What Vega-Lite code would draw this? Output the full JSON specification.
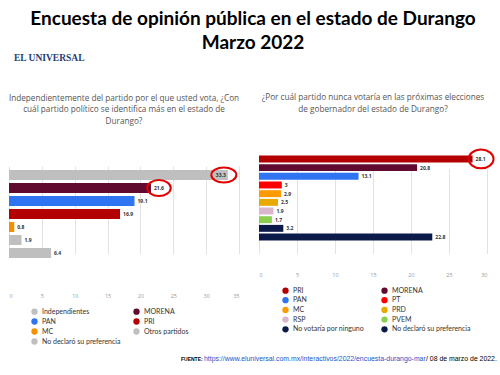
{
  "$schema": "https://vega.github.io/schema/vega-lite/v6.json",
  "background": "white",
  "padding": {"left": 8, "top": 10, "right": 4, "bottom": 4},
  "config": {
    "view": {"stroke": null},
    "font": "Open Sans"
  },
  "spacing": 10,
  "vconcat": [
    {
      "width": 488, "height": 30,
      "title": {
        "text": ["Encuesta de opinión pública en el estado de Durango", "Marzo 2022"],
        "font": "Lato", "fontSize": 19, "fontWeight": "bold", "color": "#000000",
        "anchor": "middle", "lineHeight": 24, "offset": 0
      },
      "data": {"values": [{"logo": "EL UNIVERSAL"}]},
      "mark": {"type": "text", "align": "left", "baseline": "middle", "font": "Liberation Serif", "fontWeight": "bold", "fontSize": 9.5, "color": "#1f3c74", "x": 5, "y": 5},
      "encoding": {"text": {"field": "logo"}}
    },
    {
      "spacing": 18,
      "resolve": {"scale": {"color": "independent", "y": "independent", "x": "independent"}},
      "hconcat": [
        {
          "width": 230, "height": 148,
          "title": {
            "text": ["Independientemente del partido por el que usted vota, ¿Con", "cuál partido político se identifica más en el estado de", "Durango?"],
            "font": "Open Sans", "fontSize": 8.2, "fontWeight": "normal", "color": "#555555",
            "anchor": "middle", "lineHeight": 11.5, "offset": 12
          },
          "data": {"values": [
            {"partido": "Independientes", "pct": 33.3},
            {"partido": "MORENA", "pct": 21.6},
            {"partido": "PAN", "pct": 19.1},
            {"partido": "PRI", "pct": 16.9},
            {"partido": "MC", "pct": 0.8},
            {"partido": "Otros partidos", "pct": 1.9},
            {"partido": "No declaró su preferencia", "pct": 6.4}
          ]},
          "encoding": {
            "y": {"field": "partido", "type": "nominal", "sort": null, "axis": null,
                  "scale": {"range": [32, 120], "paddingInner": 0.23, "paddingOuter": 0}},
            "x": {"field": "pct", "type": "quantitative", "scale": {"domain": [0, 35], "nice": false},
                  "axis": {"title": null, "values": [0, 5, 10, 15, 20, 25, 30, 35], "grid": true, "gridColor": "#e3e3e3", "ticks": false, "domain": false,
                           "labelFontSize": 5.5, "labelColor": "#999999", "labelPadding": 7, "labelFont": "Open Sans"}}
          },
          "layer": [
            {
              "mark": {"type": "bar"},
              "encoding": {
                "color": {"field": "partido", "type": "nominal",
                  "scale": {"domain": ["Independientes", "MORENA", "PAN", "PRI", "MC", "Otros partidos", "No declaró su preferencia"],
                            "range": ["#bfbfbf", "#600a30", "#2f74f0", "#b30000", "#f39200", "#bfbfbf", "#bfbfbf"]},
                  "legend": {"title": null, "orient": "none", "direction": "horizontal", "legendX": 22, "legendY": 170, "columns": 2, "symbolType": "circle", "symbolSize": 40, "symbolStrokeWidth": 0,
                             "labelFont": "Lato", "labelFontSize": 7, "labelColor": "#333333", "rowPadding": 2, "columnPadding": 12, "labelOffset": 4}}
              }
            },
            {
              "transform": [{"filter": "datum.pct < 30"}],
              "mark": {"type": "text", "align": "left", "baseline": "middle", "dx": 3, "fontSize": 5, "fontWeight": "bold", "color": "#333333"},
              "encoding": {"text": {"field": "pct", "type": "quantitative", "format": "~g"}}
            },
            {
              "transform": [{"filter": "datum.pct >= 30"}],
              "mark": {"type": "text", "align": "right", "baseline": "middle", "dx": -2, "fontSize": 5, "fontWeight": "bold", "color": "#333333"},
              "encoding": {"text": {"field": "pct", "type": "quantitative", "format": "~g"}}
            },
            {
              "transform": [{"filter": "datum.partido == 'Independientes'"}],
              "mark": {"type": "point", "filled": false, "stroke": "#e00000", "strokeWidth": 2, "opacity": 1,
                       "shape": "M-1,0A1,0.6 0 1,1 1,0A1,0.6 0 1,1 -1,0Z", "size": 625, "xOffset": -4}
            },
            {
              "transform": [{"filter": "datum.partido == 'MORENA'"}],
              "mark": {"type": "point", "filled": false, "stroke": "#e00000", "strokeWidth": 2, "opacity": 1,
                       "shape": "M-1,0A1,0.68 0 1,1 1,0A1,0.68 0 1,1 -1,0Z", "size": 560, "xOffset": 8}
            }
          ]
        },
        {
          "width": 228, "height": 133,
          "title": {
            "text": ["¿Por cuál partido nunca votaría en las próximas elecciones", "de gobernador del estado de Durango?"],
            "font": "Open Sans", "fontSize": 8.2, "fontWeight": "normal", "color": "#555555",
            "anchor": "middle", "lineHeight": 11.5, "offset": 24
          },
          "data": {"values": [
            {"partido": "PRI", "pct": 28.1},
            {"partido": "MORENA", "pct": 20.8},
            {"partido": "PAN", "pct": 13.1},
            {"partido": "PT", "pct": 3},
            {"partido": "MC", "pct": 2.9},
            {"partido": "PRD", "pct": 2.5},
            {"partido": "RSP", "pct": 1.9},
            {"partido": "PVEM", "pct": 1.7},
            {"partido": "No votaría por ninguno", "pct": 3.2},
            {"partido": "No declaró su preferencia", "pct": 22.8}
          ]},
          "encoding": {
            "y": {"field": "partido", "type": "nominal", "sort": null, "axis": null,
                  "scale": {"range": [17.5, 102.5], "paddingInner": 0.2, "paddingOuter": 0}},
            "x": {"field": "pct", "type": "quantitative", "scale": {"domain": [0, 30], "nice": false},
                  "axis": {"title": null, "values": [0, 5, 10, 15, 20, 25, 30], "grid": true, "gridColor": "#e3e3e3", "ticks": false, "domain": false,
                           "labelFontSize": 5.5, "labelColor": "#999999", "labelPadding": 1, "labelFont": "Open Sans"}}
          },
          "layer": [
            {
              "mark": {"type": "bar"},
              "encoding": {
                "color": {"field": "partido", "type": "nominal",
                  "scale": {"domain": ["PRI", "MORENA", "PAN", "PT", "MC", "PRD", "RSP", "PVEM", "No votaría por ninguno", "No declaró su preferencia"],
                            "range": ["#b30000", "#600a30", "#2f74f0", "#ff0000", "#ff9900", "#e8a900", "#dbb5cc", "#8ccf50", "#0c1a4a", "#0c1a4a"]},
                  "legend": {"title": null, "orient": "none", "direction": "horizontal", "legendX": 23, "legendY": 149, "columns": 2, "symbolType": "circle", "symbolSize": 40, "symbolStrokeWidth": 0,
                             "labelFont": "Lato", "labelFontSize": 7, "labelColor": "#333333", "rowPadding": 1.7, "columnPadding": 16, "labelOffset": 4}}
              }
            },
            {
              "mark": {"type": "text", "align": "left", "baseline": "middle", "dx": 3, "fontSize": 5, "fontWeight": "bold", "color": "#333333"},
              "encoding": {"text": {"field": "pct", "type": "quantitative", "format": "~g"}}
            },
            {
              "transform": [{"filter": "datum.partido == 'PRI'"}],
              "mark": {"type": "point", "filled": false, "stroke": "#e00000", "strokeWidth": 2, "opacity": 1,
                       "shape": "M-1,0A1,0.75 0 1,1 1,0A1,0.75 0 1,1 -1,0Z", "size": 625, "xOffset": 8.5}
            }
          ]
        }
      ]
    },
    {
      "width": 488, "height": 10,
      "data": {"values": [{"fuente": "FUENTE:", "url": "https://www.eluniversal.com.mx/interactivos/2022/encuesta-durango-mar", "fecha": "/ 08 de marzo de 2022."}]},
      "layer": [
        {"mark": {"type": "text", "align": "left", "baseline": "middle", "font": "Liberation Sans", "fontWeight": "bold", "fontSize": 5, "color": "#000000", "x": 172, "y": 4},
         "encoding": {"text": {"field": "fuente"}}},
        {"mark": {"type": "text", "align": "left", "baseline": "middle", "font": "Liberation Sans", "fontSize": 6.9, "color": "#1a56c9", "x": 195, "y": 4},
         "encoding": {"text": {"field": "url"}}},
        {"mark": {"type": "text", "align": "left", "baseline": "middle", "font": "Liberation Sans", "fontSize": 6.9, "color": "#000000", "x": 417, "y": 4},
         "encoding": {"text": {"field": "fecha"}}}
      ]
    }
  ]
}
